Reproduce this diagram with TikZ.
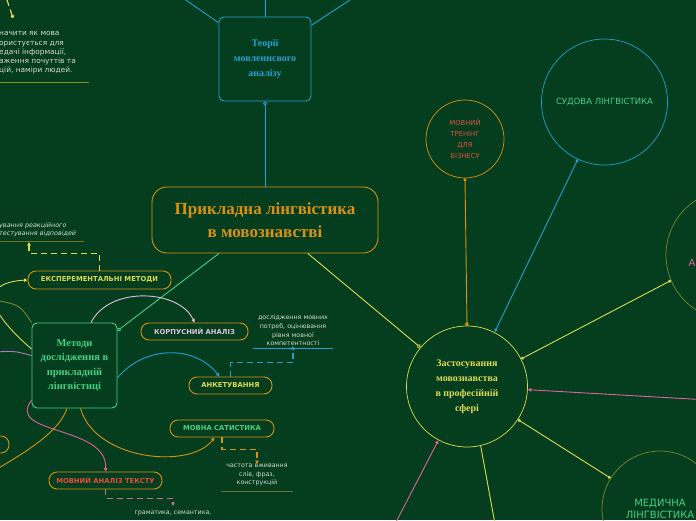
\documentclass[tikz,border=0pt]{standalone}
\usepackage{fontspec}
\setmainfont{Liberation Serif}
\setsansfont{DejaVu Sans}
\usetikzlibrary{arrows.meta}
\definecolor{bgdark}{RGB}{4,62,31}
\definecolor{mapblue}{RGB}{38,160,210}
\definecolor{maporange}{RGB}{218,146,20}
\definecolor{mapgreen}{RGB}{70,210,130}
\definecolor{mapyellow}{RGB}{222,218,80}
\definecolor{mapolive}{RGB}{120,135,50}
\definecolor{mappink}{RGB}{222,100,150}
\definecolor{mapdimpink}{RGB}{192,112,144}
\definecolor{maplilac}{RGB}{222,195,215}
\definecolor{mappurple}{RGB}{180,120,190}
\definecolor{mapred}{RGB}{226,78,62}
\definecolor{notegrey}{RGB}{215,218,205}
\definecolor{olivedim}{RGB}{105,115,40}
\begin{document}
\begin{tikzpicture}[x=1pt, y=-1pt,
    card/.style={draw, rounded corners=5pt, line width=0.9pt, inner sep=0pt, align=center},
    pill/.style={draw=maporange, rounded corners=8pt, line width=0.9pt, minimum height=17pt, inner sep=0pt,
      font=\sffamily\bfseries\fontsize{6.8}{8}\selectfont},
    ring/.style={circle, draw, line width=0.7pt, inner sep=0pt, align=center},
    note/.style={font=\sffamily\fontsize{6.3}{8.6}\selectfont, text=notegrey, align=center, inner sep=0pt},
    link/.style={line width=0.9pt},
    hint/.style={line width=1.2pt, dash pattern=on 6pt off 4pt},
    tip/.style={-{Triangle[length=3.5pt,width=3.5pt]}}]
  % Background
  \fill[bgdark] (0,0) rectangle (696,520);
  \useasboundingbox (0,0) rectangle (696,520);
  \clip (0,0) rectangle (696,520);
  % Central topic and main branches
  \node[card, draw=maporange, text=maporange, rounded corners=15pt, minimum width=226pt, minimum height=66pt,
    font=\bfseries\fontsize{17}{22.5}\selectfont] (main) at (265,220) {Прикладна лінгвістика\\в мовознавстві};
  \node[card, draw=mapblue, text=mapblue, minimum width=92pt, minimum height=84pt,
    font=\bfseries\fontsize{10}{15}\selectfont] (theory) at (265,59) {Теорії\\мовленнсвого\\аналізу};
  \node[card, draw=mapgreen, text=mapgreen, minimum width=85pt, minimum height=85pt,
    font=\bfseries\fontsize{10.5}{14.5}\selectfont] (methods) at (74.5,365.5) {Методи\\дослідження в\\прикладній\\лінгвістиці};
  \node[ring, draw=mapyellow, text=mapyellow, minimum size=121pt,
    font=\bfseries\fontsize{10}{15}\selectfont] (apply) at (467,386.5) {Застосування\\мовознавства\\в професійній\\сфері};
  % Application circles
  \node[ring, draw=maporange, text=mapred, minimum size=78pt,
    font=\sffamily\fontsize{6.8}{11}\selectfont] (training) at (465,139) {МОВНИЙ\\ТРЕНІНГ\\ДЛЯ\\БІЗНЕСУ};
  \node[ring, draw=mapblue, text=mapgreen, minimum size=126pt,
    font=\sffamily\fontsize{8.5}{10}\selectfont] (court) at (604.5,102) {СУДОВА ЛІНГВІСТИКА};
  \node[ring, draw=mapolive, minimum size=130pt] (rightring) at (731,255) {};
  \node[text=mappink, font=\sffamily\fontsize{10}{12}\selectfont] (rightlabel) at (692,263) {А};
  \node[ring, draw=mapolive, text=mapgreen, minimum size=116pt,
    font=\sffamily\fontsize{10}{12}\selectfont] (medical) at (660,509) {МЕДИЧНА\\ЛІНГВІСТИКА};
  % Method pills
  \node[pill, text=mapyellow, minimum width=143pt, minimum height=18pt] (exp) at (99.5,280) {ЕКСПЕРЕМЕНТАЛЬНІ МЕТОДИ};
  \node[pill, text=maplilac, minimum width=107pt] (corpus) at (194.5,331.5) {КОРПУСНИЙ АНАЛІЗ};
  \node[pill, text=mapyellow, minimum width=83pt] (survey) at (230.5,385.5) {АНКЕТУВАННЯ};
  \node[pill, text=mapgreen, minimum width=104pt] (stats) at (222,428.5) {МОВНА САТИСТИКА};
  \node[pill, text=mapred, minimum width=113pt] (textan) at (105.5,480.5) {МОВНИЙ АНАЛІЗ ТЕКСТУ};
  \node[pill, minimum width=60pt] (leftpill) at (-21,444.5) {};
  % Notes
  \node[note, font=\sffamily\fontsize{7.4}{9.3}\selectfont, anchor=north west] (topnote) at (-1,29)
    {\begin{tabular}{@{}l@{}}начити як мова\\ористується для\\едачі інформації,\\аження почуттів та\\цій, наміри людей.\end{tabular}};
  \node[note, font=\sffamily\itshape\fontsize{6.4}{8}\selectfont, text width=90pt, align=left, anchor=south west] (expnote) at (-1,237)
    {ування реакційного\\тестування відповідей};
  \node[note, text width=79pt, anchor=south] (surveynote) at (293,346) {дослідження мовних\\потреб, оцінювання\\рівня мовної\\компетентності};
  \node[note, text width=72pt, anchor=north] (statsnote) at (257,464) {частота вживання\\слів, фраз,\\конструкцій};
  \node[note, text width=80pt, anchor=north, inner ysep=5pt] (textnote) at (173,506) {граматика, семантика,};
  \coordinate (topdot) at (13,18);
  \coordinate (topfree) at (6,-3);
  \coordinate (exptarget) at (29,242);
  \draw[olivedim!80!yellow, line width=0.9pt] (-2,82) -- (89,82);
  \draw[olivedim, line width=0.9pt] (-2,241) -- (84,241);
  \draw[mapblue, line width=0.8pt] ([yshift=-2pt]surveynote.south west) -- ([yshift=-2pt]surveynote.south east);
  \draw[olivedim, line width=1pt] ([yshift=-5pt]statsnote.south west) -- ([yshift=-5pt]statsnote.south east);
  % Central links
  \draw[link, mapblue, {Circle[open,length=4pt,width=4pt]}-] (theory.south) -- (main.north);
  \draw[link, mapgreen, {Circle[open,length=4pt,width=4pt]}-] (methods.39) -- (main.216);
  \draw[link, mapyellow, -{Circle[open,length=4pt,width=4pt]}] (main.322) -- (apply.140);
  % Theory links leaving the page
  \coordinate (upleft) at (180,-4);
  \coordinate (upmid) at (265,-4);
  \coordinate (upright) at (356,-4);
  \draw[link, mapblue] (theory.142) -- (upleft);
  \draw[link, mapblue] (theory.north) -- (upmid);
  \draw[link, mapblue] (theory.36) -- (upright);
  % Application links
  \coordinate (rightfree) at (700,399.5);
  \coordinate (downleft) at (395,524);
  \coordinate (downright) at (495,524);
  \draw[link, maporange, {Circle[length=3pt]}-{Square[length=3pt]}] (training.south) -- (apply.north);
  \draw[link, mapblue, {Circle[length=3pt]}-{Triangle[length=3.5pt,width=3.5pt]}] (court.245) -- (apply.63);
  \draw[link, mapyellow, {Circle[length=3pt]}-{Circle[length=3pt]}] (rightring.203) -- (apply.27);
  \draw[link, mappink, tip] (rightfree) -- (apply.357);
  \draw[link, mapyellow, {Circle[length=3pt]}-{Circle[length=3pt]}] (medical.148) -- (apply.327);
  \draw[link, mappink, tip] (downleft) -- (apply.242);
  \draw[link, mapyellow] (apply.283) -- (downright);
  % Method links
  \coordinate (olivefree) at (-5,300);
  \coordinate (purplefree) at (-5,352);
  \coordinate (orangefree) at (-5,470);
  \draw[link, mapyellow, tip] (methods.159) .. controls (-25,300) and (-10,282) .. (exp.west);
  \draw[link, mapolive] (methods.north west) .. controls (20,305) .. (olivefree);
  \draw[link, mappurple] (purplefree) .. controls (15,351) .. (methods.167);
  \draw[link, maplilac, tip] (methods.69) .. controls (110,285) and (180,290) .. (corpus.north);
  \draw[link, mapblue, tip] (methods.344) .. controls (145,345) and (195,345) .. (survey.141);
  \draw[link, mappink, tip] (methods.219) .. controls (5,435) and (108,425) .. (textan.north);
  \draw[link, maporange] (methods.260) .. controls (60,430) and (30,450) .. (orangefree);
  \draw[link, maporange, tip] (methods.278) .. controls (95,460) and (190,470) .. (stats.230);
  % Dashed note links
  \draw[hint, mapyellow, {Circle[length=3.5pt]}-] (topdot) -- (topfree);
  \draw[hint, mapyellow, tip] (exp.north) -- ++(0,-17) -| (exptarget);
  \draw[hint, mapblue, tip] (survey.north) -- ++(0,-14) -| (surveynote.south);
  \draw[hint, maporange, tip] (stats.south) -- ++(0,12) -| (statsnote.north);
  \draw[hint, mapdimpink, tip] (textan.south) -- ++(0,9) -| (textnote.north);
\end{tikzpicture}
\end{document}
